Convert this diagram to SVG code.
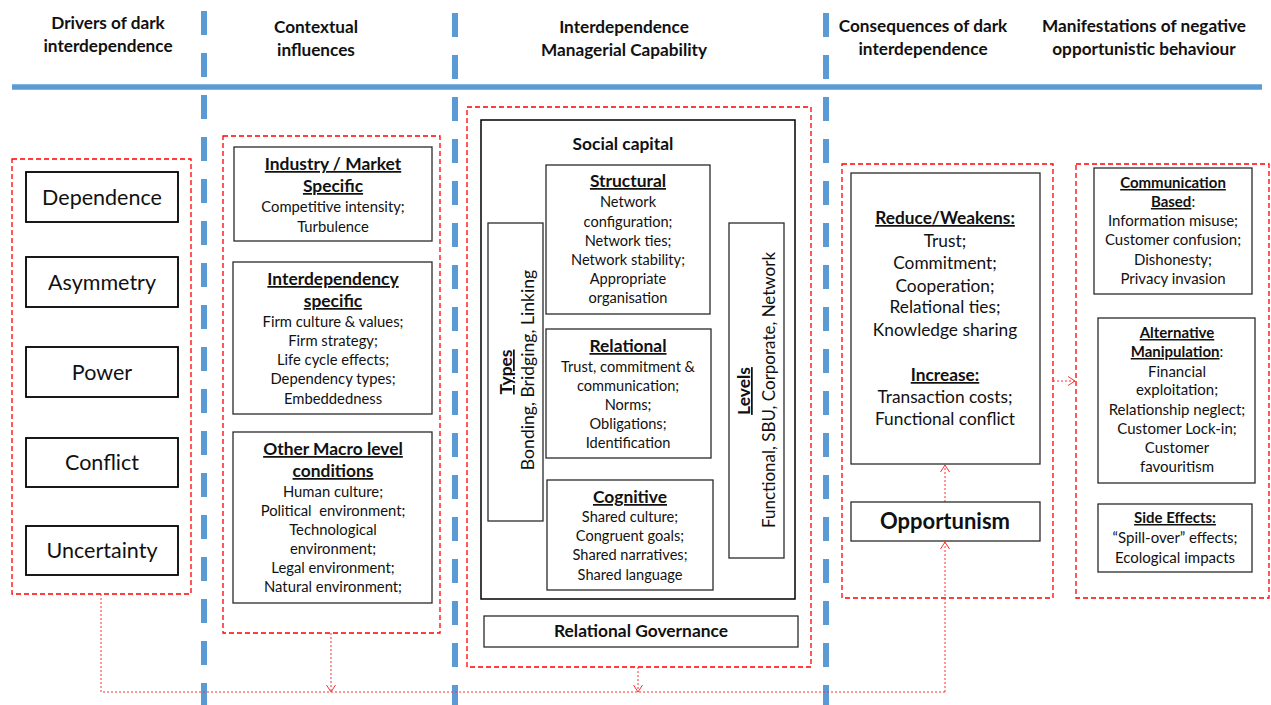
<svg xmlns="http://www.w3.org/2000/svg" width="1271" height="705" viewBox="0 0 1271 705">
  <style>
    text { font-family: Lato, "Open Sans", "Liberation Sans", sans-serif; fill: #111; text-anchor: middle; }
    .hdr { font-size: 17.2px; font-weight: bold; }
    .drv { font-size: 21.5px; }
    .t { font-size: 14.8px; }
    .ts { font-size: 14.6px; }
    .tm { font-size: 15px; }
    .tl { font-size: 17.3px; }
    .st { font-size: 17.4px; }
    .b { font-weight: bold; }
    .u { text-decoration: underline; }
    .zone { fill: none; stroke: #FF0000; stroke-width: 1.3; stroke-dasharray: 5 3; }
    .box { fill: #fff; stroke: #2a2a2a; stroke-width: 1.3; }
    .dbox { fill: #fff; stroke: #000; stroke-width: 1.8; }
    .axis { stroke: #5B9BD5; stroke-width: 6; stroke-dasharray: 24 18; fill: none; }
    .link { fill: none; stroke: #FF3030; stroke-width: 1; stroke-dasharray: 2 2; }
  </style>
  <defs>
    <marker id="open" viewBox="0 0 7 10" refX="7" refY="5" markerWidth="7" markerHeight="10" markerUnits="userSpaceOnUse" orient="auto">
      <path d="M0,0.5 L7,5 L0,9.5" fill="none" stroke="#FF3030" stroke-width="1"/>
    </marker>
  </defs>
  <rect width="1271" height="705" fill="#fff"/>

  <!-- column separators and header rule -->
  <g id="axes">
    <line class="axis" x1="204" y1="11" x2="204" y2="705"/>
    <line class="axis" x1="455" y1="13" x2="455" y2="705"/>
    <line class="axis" x1="826" y1="13" x2="826" y2="705"/>
    <line x1="12" y1="87" x2="1262" y2="87" stroke="#5B9BD5" stroke-width="5.5"/>
  </g>

  <!-- column headings -->
  <g id="headings">
    <text x="108" y="29" class="hdr">Drivers of dark</text>
    <text x="108" y="52" class="hdr">interdependence</text>
    <text x="316" y="33" class="hdr">Contextual</text>
    <text x="316" y="56" class="hdr">influences</text>
    <text x="624" y="33" class="hdr">Interdependence</text>
    <text x="624" y="56" class="hdr">Managerial Capability</text>
    <text x="923" y="32" class="hdr">Consequences of dark</text>
    <text x="923" y="55" class="hdr">interdependence</text>
    <text x="1144" y="32" class="hdr">Manifestations of negative</text>
    <text x="1144" y="55" class="hdr">opportunistic behaviour</text>
  </g>

  <!-- group frames -->
  <g id="frames">
    <rect class="zone" x="12" y="159" width="179" height="435"/>
    <rect class="zone" x="223" y="136" width="217" height="497"/>
    <rect class="zone" x="467" y="107" width="344" height="560"/>
    <rect class="zone" x="842" y="164" width="211" height="434"/>
    <rect class="zone" x="1076" y="164" width="193" height="434"/>
  </g>

  <!-- connectors -->
  <g id="connectors">
    <path class="link" d="M101,594 V692 H945"/>
    <path class="link" d="M331,633 V692" marker-end="url(#open)"/>
    <path class="link" d="M638,667 V692" marker-end="url(#open)"/>
    <path class="link" d="M945,692 V542" marker-end="url(#open)"/>
    <path class="link" d="M945,502 V465" marker-end="url(#open)"/>
    <path class="link" d="M1053,381 H1075" marker-end="url(#open)"/>
  </g>

  <!-- drivers -->
  <g id="dependence">
    <rect class="dbox" x="26" y="172" width="152" height="50"/>
    <text class="drv" x="102" y="205">Dependence</text>
  </g>
  <g id="asymmetry">
    <rect class="dbox" x="26" y="257" width="152" height="50"/>
    <text class="drv" x="102" y="290">Asymmetry</text>
  </g>
  <g id="power">
    <rect class="dbox" x="26" y="347" width="152" height="50"/>
    <text class="drv" x="102" y="380">Power</text>
  </g>
  <g id="conflict">
    <rect class="dbox" x="26" y="438" width="152" height="49"/>
    <text class="drv" x="102" y="470">Conflict</text>
  </g>
  <g id="uncertainty">
    <rect class="dbox" x="26" y="526" width="152" height="49"/>
    <text class="drv" x="102" y="558">Uncertainty</text>
  </g>

  <!-- contextual influences -->
  <g id="industry-market">
    <rect class="box" x="234" y="147" width="198" height="94"/>
    <text class="st b u" x="333" y="170">Industry / Market</text>
    <text class="st b u" x="333" y="192">Specific</text>
    <text class="t" x="333" y="212">Competitive intensity;</text>
    <text class="t" x="333" y="232">Turbulence</text>
  </g>
  <g id="interdependency-specific">
    <rect class="box" x="233" y="262" width="199" height="152"/>
    <text class="st b u" x="333" y="285">Interdependency</text>
    <text class="st b u" x="333" y="307">specific</text>
    <text class="t" x="333" y="327">Firm culture &amp; values;</text>
    <text class="t" x="333" y="346">Firm strategy;</text>
    <text class="t" x="333" y="365">Life cycle effects;</text>
    <text class="t" x="333" y="384">Dependency types;</text>
    <text class="t" x="333" y="404">Embeddedness</text>
  </g>
  <g id="macro-conditions">
    <rect class="box" x="233" y="432" width="199" height="171"/>
    <text class="st b u" x="333" y="455">Other Macro level</text>
    <text class="st b u" x="333" y="477">conditions</text>
    <text class="t" x="333" y="497">Human culture;</text>
    <text class="t" x="333" y="516" xml:space="preserve">Political  environment;</text>
    <text class="t" x="333" y="535">Technological</text>
    <text class="t" x="333" y="554">environment;</text>
    <text class="t" x="333" y="573">Legal environment;</text>
    <text class="t" x="333" y="592">Natural environment;</text>
  </g>

  <!-- managerial capability -->
  <g id="social-capital">
    <rect class="dbox" x="481" y="120" width="314" height="479" style="stroke-width:1.5"/>
    <text class="st b" x="623" y="150">Social capital</text>
  </g>
  <g id="structural">
    <rect class="box" x="546" y="165" width="164" height="149"/>
    <text class="st b u" x="628" y="187">Structural</text>
    <text class="ts" x="628" y="207">Network</text>
    <text class="ts" x="628" y="227">configuration;</text>
    <text class="ts" x="628" y="246">Network ties;</text>
    <text class="ts" x="628" y="265">Network stability;</text>
    <text class="ts" x="628" y="284">Appropriate</text>
    <text class="ts" x="628" y="303">organisation</text>
  </g>
  <g id="relational">
    <rect class="box" x="546" y="329" width="165" height="129"/>
    <text class="st b u" x="628" y="352">Relational</text>
    <text class="ts" x="628" y="372">Trust, commitment &amp;</text>
    <text class="ts" x="628" y="391">communication;</text>
    <text class="ts" x="628" y="410">Norms;</text>
    <text class="ts" x="628" y="429">Obligations;</text>
    <text class="ts" x="628" y="448">Identification</text>
  </g>
  <g id="cognitive">
    <rect class="box" x="547" y="480" width="166" height="110"/>
    <text class="st b u" x="630" y="503">Cognitive</text>
    <text class="ts" x="630" y="522">Shared culture;</text>
    <text class="ts" x="630" y="541">Congruent goals;</text>
    <text class="ts" x="630" y="560">Shared narratives;</text>
    <text class="ts" x="630" y="580">Shared language</text>
  </g>
  <g id="types">
    <rect class="box" x="488" y="223" width="55" height="298"/>
    <text class="st b u" transform="translate(512,372) rotate(-90)">Types</text>
    <text transform="translate(534,370) rotate(-90)" style="font-size:17.6px">Bonding, Bridging, Linking</text>
  </g>
  <g id="levels">
    <rect class="box" x="729" y="223" width="55" height="335"/>
    <text class="st b u" transform="translate(750,391) rotate(-90)">Levels</text>
    <text transform="translate(775,390) rotate(-90)" style="font-size:17px">Functional, SBU, Corporate, Network</text>
  </g>
  <g id="relational-governance">
    <rect class="box" x="484" y="616" width="314" height="31"/>
    <text class="st b" x="641" y="637">Relational Governance</text>
  </g>

  <!-- consequences -->
  <g id="consequences">
    <rect class="box" x="851" y="173" width="189" height="291"/>
    <text class="tl b u" x="945" y="224">Reduce/Weakens:</text>
    <text class="tl" x="945" y="247">Trust;</text>
    <text class="tl" x="945" y="269">Commitment;</text>
    <text class="tl" x="945" y="292">Cooperation;</text>
    <text class="tl" x="945" y="313">Relational ties;</text>
    <text class="tl" x="945" y="336">Knowledge sharing</text>
    <text class="tl b u" x="945" y="381">Increase:</text>
    <text class="tl" x="945" y="403">Transaction costs;</text>
    <text class="tl" x="945" y="425">Functional conflict</text>
  </g>
  <g id="opportunism">
    <rect class="box" x="851" y="502" width="189" height="39"/>
    <text class="b" x="945" y="529" style="font-size:22px">Opportunism</text>
  </g>

  <!-- manifestations -->
  <g id="communication-based">
    <rect class="box" x="1094" y="168" width="158" height="126"/>
    <text class="tm b u" x="1173" y="188">Communication</text>
    <text class="tm" x="1173" y="207"><tspan class="b u">Based</tspan>:</text>
    <text class="tm" x="1173" y="226">Information misuse;</text>
    <text class="tm" x="1173" y="245">Customer confusion;</text>
    <text class="tm" x="1173" y="265">Dishonesty;</text>
    <text class="tm" x="1173" y="284">Privacy invasion</text>
  </g>
  <g id="alternative-manipulation">
    <rect class="box" x="1098" y="318" width="157" height="165"/>
    <text class="tm b u" x="1177" y="338">Alternative</text>
    <text class="tm" x="1177" y="357"><tspan class="b u">Manipulation</tspan>:</text>
    <text class="tm" x="1177" y="377">Financial</text>
    <text class="tm" x="1177" y="395">exploitation;</text>
    <text class="tm" x="1177" y="415">Relationship neglect;</text>
    <text class="tm" x="1177" y="434">Customer Lock-in;</text>
    <text class="tm" x="1177" y="453">Customer</text>
    <text class="tm" x="1177" y="472">favouritism</text>
  </g>
  <g id="side-effects">
    <rect class="box" x="1098" y="504" width="154" height="68"/>
    <text class="tm b u" x="1175" y="523">Side Effects:</text>
    <text class="tm" x="1175" y="543">“Spill-over” effects;</text>
    <text class="tm" x="1175" y="563">Ecological impacts</text>
  </g>
</svg>
